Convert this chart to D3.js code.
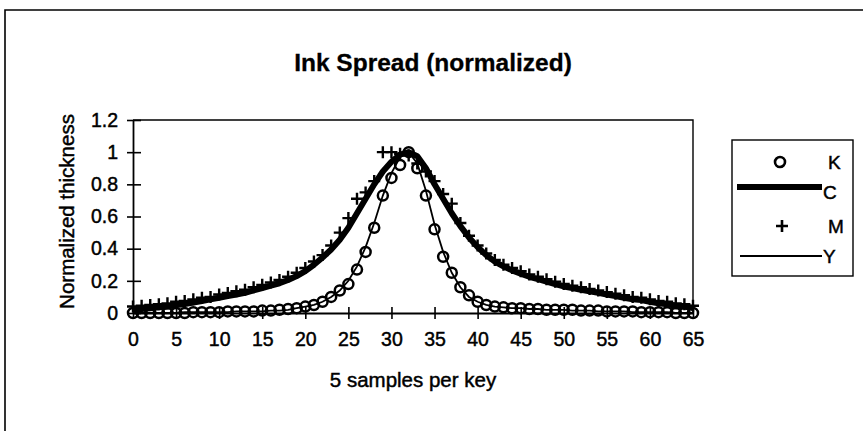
<!DOCTYPE html>
<html>
<head>
<meta charset="utf-8">
<script src="https://cdn.jsdelivr.net/npm/d3@7"></script>
<style>
  body { margin: 0; background: #fff; }
  text { font-family: "Liberation Sans", Arial, sans-serif; fill: #000; stroke: #000; stroke-width: 0.45px; }
</style>
</head>
<body>
<svg class="chart"></svg>
<script>
// sample index (5 samples per key)
var samples = [0,1,2,3,4,5,6,7,8,9,10,11,12,13,14,15,16,17,18,19,20,21,22,23,24,25,26,27,28,29,
  30,31,32,33,34,35,36,37,38,39,40,41,42,43,44,45,46,47,48,49,50,51,52,53,54,55,56,57,58,59,
  60,61,62,63,64,65];

var kValues = [0,0,0,0,0,0,0,0.005,0.005,0.005,
  0.005,0.01,0.01,0.01,0.01,0.015,0.015,0.02,0.025,0.03,
  0.04,0.05,0.07,0.1,0.14,0.18,0.27,0.38,0.53,0.73,
  0.84,0.92,1.0,0.9,0.73,0.52,0.35,0.25,0.16,0.11,
  0.07,0.05,0.04,0.035,0.03,0.03,0.025,0.025,0.02,0.02,
  0.02,0.02,0.015,0.015,0.015,0.01,0.01,0.01,0.01,0.005,
  0.005,0.005,0.005,0,0,0];

var cValues = [0.02,0.025,0.03,0.035,0.04,0.05,0.055,0.065,0.075,0.085,
  0.095,0.105,0.115,0.125,0.14,0.155,0.17,0.185,0.205,0.23,
  0.26,0.3,0.345,0.395,0.455,0.53,0.62,0.71,0.8,0.88,
  0.94,0.985,1.0,0.975,0.9,0.8,0.71,0.62,0.54,0.47,
  0.41,0.36,0.32,0.29,0.265,0.245,0.225,0.21,0.195,0.18,
  0.165,0.155,0.145,0.135,0.125,0.115,0.105,0.095,0.085,0.08,
  0.07,0.06,0.055,0.045,0.04,0.03];

var mValues = [0.04,0.045,0.05,0.055,0.06,0.07,0.075,0.085,0.095,0.1,
  0.115,0.125,0.135,0.145,0.16,0.175,0.19,0.205,0.225,0.25,
  0.28,0.32,0.36,0.42,0.5,0.59,0.71,0.75,0.82,1.0,
  1.0,0.99,0.98,0.93,0.88,0.82,0.74,0.68,0.56,0.48,
  0.42,0.37,0.33,0.3,0.28,0.26,0.24,0.225,0.21,0.195,
  0.18,0.17,0.16,0.15,0.14,0.13,0.12,0.11,0.1,0.095,
  0.085,0.075,0.07,0.06,0.055,0.045];

var yValues = [0,0,0,0,0,0,0.005,0.005,0.005,0.005,
  0.005,0.005,0.01,0.01,0.01,0.01,0.015,0.015,0.02,0.03,
  0.04,0.05,0.07,0.1,0.14,0.2,0.29,0.41,0.56,0.73,
  0.87,0.97,1.0,0.93,0.76,0.55,0.38,0.25,0.16,0.1,
  0.07,0.05,0.04,0.035,0.03,0.03,0.025,0.025,0.02,0.02,
  0.02,0.015,0.015,0.015,0.01,0.01,0.01,0.01,0.005,0.005,
  0.005,0.005,0.005,0,0,0];

var xTicks = [0,5,10,15,20,25,30,35,40,45,50,55,60,65];
var yTicks = [0,0.2,0.4,0.6,0.8,1,1.2];
var seriesNames = ["K", "C", "M", "Y"];

function show() {

    'use strict';
    var width = 865, height = 431;
    var plot = {left: 133, right: 693, top: 120, bottom: 313};

    var svg = d3.select(".chart")
        .attr("width", width)
        .attr("height", height);

    var x = d3.scaleLinear().domain([0, 65]).range([plot.left, plot.right]);
    var y = d3.scaleLinear().domain([0, 1.2]).range([plot.bottom, plot.top]);

    // outer chart frame (top and left edges visible)
    svg.append("path")
        .attr("d", "M5,431V10H863")
        .attr("fill", "none")
        .attr("stroke", "#000")
        .attr("stroke-width", 1.6);

    svg.append("text")
        .attr("x", 433).attr("y", 71)
        .attr("text-anchor", "middle")
        .style("font-size", "24.5px")
        .style("font-weight", "bold")
        .style("stroke-width", "0.3px")
        .text("Ink Spread (normalized)");

    // plot area border (top and right)
    svg.append("path")
        .attr("d", "M" + plot.left + "," + plot.top + "H" + plot.right + "V" + plot.bottom)
        .attr("fill", "none")
        .attr("stroke", "#000")
        .attr("stroke-width", 1.4);

    var yAxis = svg.append("g")
        .attr("transform", "translate(" + plot.left + ",0)")
        .call(d3.axisLeft(y).tickValues(yTicks).tickSize(0).tickPadding(15)
            .tickFormat(function(d) {return d3.format("~g")(d)}));
    yAxis.select(".domain").attr("stroke-width", 1.8);
    yAxis.selectAll(".tick").append("line")
        .attr("x1", -6).attr("x2", 8)
        .attr("stroke", "#000").attr("stroke-width", 1.6);
    yAxis.selectAll("text")
        .style("font-size", "19.5px")
        .attr("font-family", null);

    var xAxis = svg.append("g")
        .attr("transform", "translate(0," + plot.bottom + ")")
        .call(d3.axisBottom(x).tickValues(xTicks).tickSize(0).tickPadding(19));
    xAxis.select(".domain").attr("stroke-width", 1.8);
    xAxis.selectAll(".tick").append("line")
        .attr("y1", -6).attr("y2", 6)
        .attr("stroke", "#000").attr("stroke-width", 1.6);
    xAxis.selectAll("text")
        .style("font-size", "19.5px")
        .attr("font-family", null);

    svg.append("text")
        .attr("transform", "translate(74," + ((plot.top + plot.bottom) / 2 - 5) + ") rotate(-90)")
        .attr("text-anchor", "middle")
        .style("font-size", "20.5px")
        .text("Normalized thickness");

    svg.append("text")
        .attr("x", (plot.left + plot.right) / 2).attr("y", 387)
        .attr("text-anchor", "middle")
        .style("font-size", "20.5px")
        .text("5 samples per key");

    var rows = samples.map(function(s, i) {
        return {s: s, k: kValues[i], c: cValues[i], m: mValues[i], y: yValues[i]};
    });

    var line = function(key) {
        return d3.line()
            .x(function(d) {return x(d.s)})
            .y(function(d) {return y(d[key])});
    };

    var data = svg.append("g");

    // K: open circles
    data.selectAll("circle.k").data(rows).enter()
        .append("circle")
        .attr("class", "k")
        .attr("cx", function(d) {return x(d.s)})
        .attr("cy", function(d) {return y(d.k)})
        .attr("r", 5)
        .attr("fill", "none")
        .attr("stroke", "#000")
        .attr("stroke-width", 2.5);

    // C: thick line
    data.append("path")
        .datum(rows)
        .attr("d", line("c"))
        .attr("fill", "none")
        .attr("stroke", "#000")
        .attr("stroke-width", 6)
        .attr("stroke-linejoin", "round");

    // M: plus markers
    data.selectAll("path.m").data(rows).enter()
        .append("path")
        .attr("class", "m")
        .attr("d", function(d) {
            var cx = x(d.s), cy = y(d.m);
            return "M" + (cx - 6) + "," + cy + "H" + (cx + 6) + "M" + cx + "," + (cy - 6) + "V" + (cy + 6);
        })
        .attr("stroke", "#000")
        .attr("stroke-width", 2.4);

    // Y: thin line
    data.append("path")
        .datum(rows)
        .attr("d", line("y"))
        .attr("fill", "none")
        .attr("stroke", "#000")
        .attr("stroke-width", 1.8);

    // legend
    var legend = svg.append("g");
    legend.append("rect")
        .attr("x", 732).attr("y", 140)
        .attr("width", 121).attr("height", 136)
        .attr("fill", "#fff")
        .attr("stroke", "#000")
        .attr("stroke-width", 1.4);

    var rowY = [162, 192, 226, 256];
    var entry = legend.selectAll("g.entry").data(seriesNames).enter()
        .append("g")
        .attr("class", "entry")
        .attr("transform", function(d, i) {return "translate(0," + rowY[i] + ")"});

    entry.append("text")
        .attr("x", function(d) {return (d === "C" || d === "Y") ? 823 : 828})
        .attr("y", 7)
        .style("font-size", "19px")
        .text(function(d) {return d});

    entry.filter(function(d) {return d === "K"})
        .append("circle")
        .attr("cx", 780).attr("cy", 0).attr("r", 5)
        .attr("fill", "none").attr("stroke", "#000").attr("stroke-width", 2.6);

    entry.filter(function(d) {return d === "C"})
        .append("line")
        .attr("x1", 737).attr("x2", 822).attr("y1", -5).attr("y2", -5)
        .attr("stroke", "#000").attr("stroke-width", 6);

    entry.filter(function(d) {return d === "M"})
        .append("path")
        .attr("d", "M776,0H788M782,-6V6")
        .attr("stroke", "#000").attr("stroke-width", 2.6);

    entry.filter(function(d) {return d === "Y"})
        .append("line")
        .attr("x1", 740).attr("x2", 822).attr("y1", 0).attr("y2", 0)
        .attr("stroke", "#000").attr("stroke-width", 2);
}
show();
</script>
</body>
</html>
